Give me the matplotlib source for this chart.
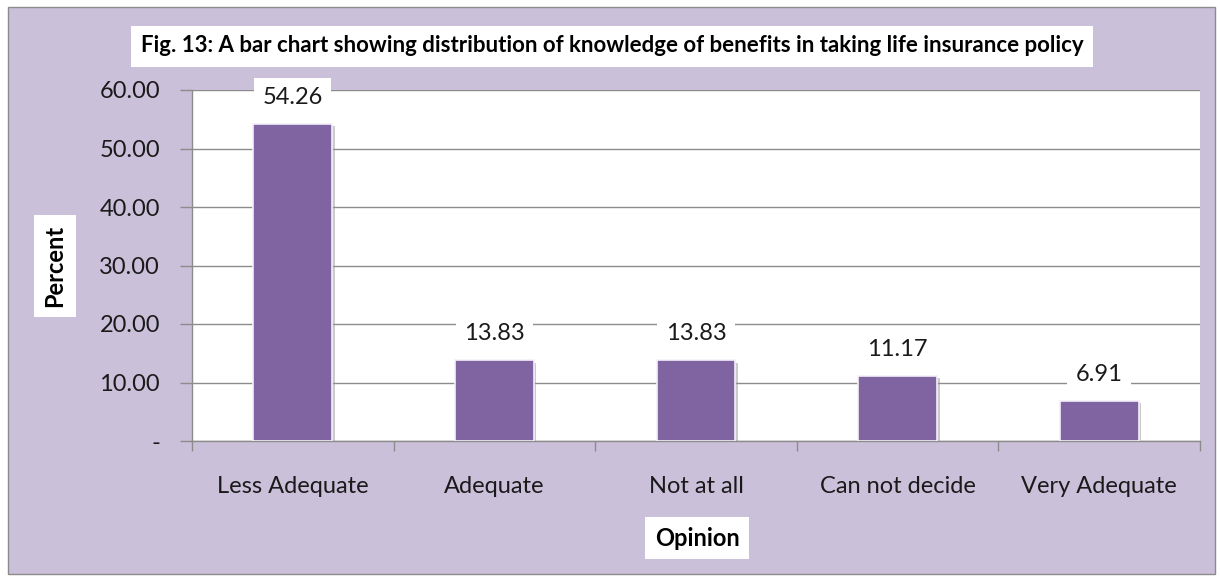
import matplotlib
matplotlib.use("Agg")
import matplotlib.pyplot as plt
import matplotlib.patheffects as pe
from matplotlib.patches import Rectangle

categories = ["Less Adequate", "Adequate", "Not at all", "Can not decide", "Very Adequate"]
values = [54.26, 13.83, 13.83, 11.17, 6.91]
yticks = [0, 10, 20, 30, 40, 50, 60]
ytick_labels = ["-", "10.00", "20.00", "30.00", "40.00", "50.00", "60.00"]
title = "Fig. 13: A bar chart showing distribution of knowledge of benefits in taking life insurance policy"

plt.rcParams['font.family'] = ['Lato', 'DejaVu Sans']

W, H = 1220, 580
fig = plt.figure(figsize=(W/100, H/100), dpi=100)
bg = "#CBC0DA"
fig.patch.set_facecolor("white")
frame = Rectangle((8/W, 1-574/H), (1215-8)/W, (574-7)/H, transform=fig.transFigure,
                  facecolor=bg, edgecolor="#8C8C8C", linewidth=1.0, zorder=-10)
fig.add_artist(frame)

ax = fig.add_axes([192/W, 1-441/H, (1200-192)/W, (441-90)/H])
ax.set_zorder(1)
ax.set_facecolor("white")
x = list(range(len(categories)))
bars = ax.bar(x, values, width=0.39, color="#8064A2", edgecolor="#F4F0F8", linewidth=1.2, zorder=3)
for b in bars:
    b.set_path_effects([pe.SimplePatchShadow(offset=(2, -2), shadow_rgbFace="#999999", alpha=0.5), pe.Normal()])

ax.set_xlim(-0.5, len(categories) - 0.5)
ax.set_ylim(0, 60)
ax.set_yticks(yticks)
ax.set_yticklabels(ytick_labels, fontsize=17, color="#1a1a1a")
ax.set_xticks(x)
ax.set_xticklabels(categories, fontsize=17, color="#1a1a1a")
ax.tick_params(axis='x', length=0, pad=25)
ax.set_xticks([i - 0.5 for i in range(len(categories) + 1)], minor=True)
ax.tick_params(axis='x', which='minor', length=7, color="#8C8C8C", width=1)
ax.tick_params(axis='y', length=9, color="#8C8C8C", width=1, pad=14)
ax.grid(axis='y', color="#8C8C8C", linewidth=1, zorder=1)
ax.set_axisbelow(True)
for s in ["top", "right"]:
    ax.spines[s].set_visible(False)
for s in ["left", "bottom"]:
    ax.spines[s].set_color("#8C8C8C")
    ax.spines[s].set_linewidth(1)

for xi, v in zip(x, values):
    ax.annotate(f"{v:.2f}", (xi, v), xytext=(0, 19), textcoords="offset points",
                ha="center", va="center", fontsize=17, color="#1a1a1a", zorder=5,
                bbox=dict(boxstyle="square,pad=0.35", facecolor="white", edgecolor="none"))

fig.text(612/W, 1-46/H, title, ha="center", va="center", fontsize=16, fontweight="bold",
         color="black", bbox=dict(boxstyle="square,pad=0.45", facecolor="white", edgecolor="none"))
fig.text(55/W, 1-266/H, "Percent", ha="center", va="center", rotation=90, fontsize=17,
         fontweight="bold", color="black",
         bbox=dict(boxstyle="square,pad=0.4", facecolor="white", edgecolor="none"))
fig.text(697/W, 1-538/H, "Opinion", ha="center", va="center", fontsize=17,
         fontweight="bold", color="black",
         bbox=dict(boxstyle="square,pad=0.4", facecolor="white", edgecolor="none"))

fig.savefig("out.png", dpi=100, facecolor=fig.get_facecolor())
